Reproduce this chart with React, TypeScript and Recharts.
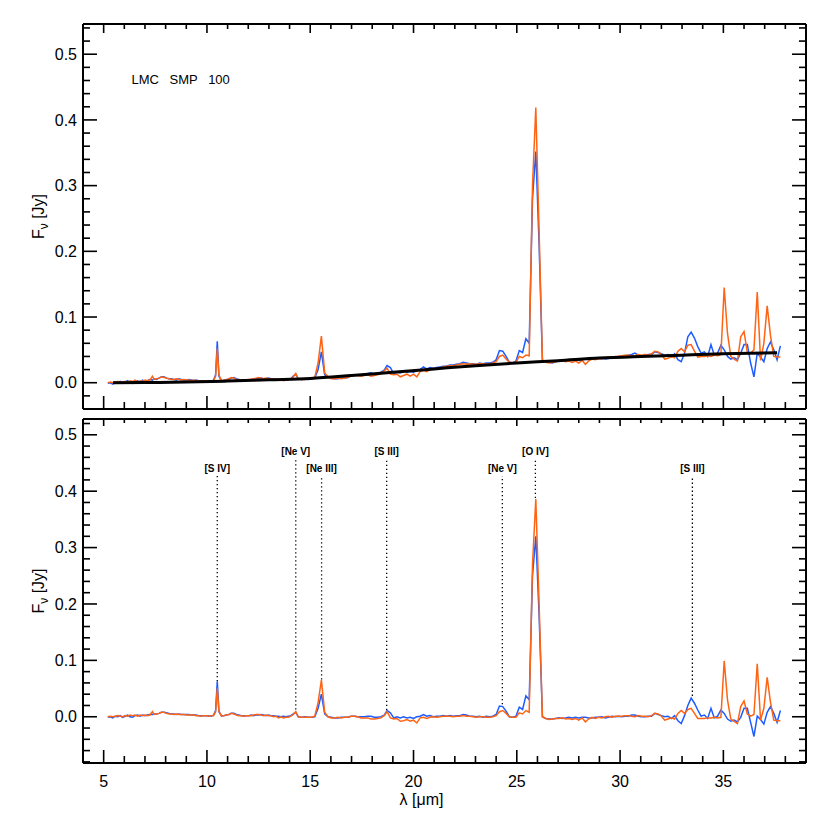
import React from 'react';
import { LineChart, Line, XAxis, YAxis, ReferenceLine, ReferenceDot } from 'recharts';

const FONT = '"Liberation Sans", Arial, Helvetica, sans-serif';
const ORANGE = '#ff6414';
const BLUE = '#1f5cff';

// Wavelength grid (micron)
const wavelengths = [
  5.2, 5.32, 5.44, 5.56, 5.68, 5.8, 5.92, 6.04, 6.16, 6.28,
  6.4, 6.52, 6.64, 6.76, 6.88, 7.0, 7.12, 7.24, 7.36, 7.44,
  7.56, 7.68, 7.8, 7.92, 8.04, 8.16, 8.28, 8.4, 8.52, 8.64,
  8.76, 8.88, 9.0, 9.12, 9.24, 9.36, 9.48, 9.6, 9.72, 9.84,
  9.96, 10.08, 10.2, 10.32, 10.42, 10.5, 10.58, 10.7, 10.82, 10.94,
  11.06, 11.18, 11.3, 11.42, 11.54, 11.66, 11.78, 11.9, 12.02, 12.14,
  12.26, 12.38, 12.5, 12.62, 12.74, 12.86, 12.98, 13.1, 13.22, 13.34,
  13.46, 13.58, 13.7, 13.82, 13.94, 14.06, 14.18, 14.3, 14.42, 14.58,
  14.74, 14.9, 15.06, 15.22, 15.38, 15.54, 15.7, 15.86, 16.02, 16.18,
  16.34, 16.5, 16.66, 16.82, 16.98, 17.14, 17.3, 17.46, 17.62, 17.78,
  17.94, 18.1, 18.26, 18.42, 18.58, 18.72, 18.88, 19.04, 19.2, 19.36,
  19.52, 19.68, 19.84, 20.0, 20.16, 20.32, 20.48, 20.64, 20.8, 20.96,
  21.12, 21.28, 21.44, 21.6, 21.76, 21.92, 22.08, 22.24, 22.4, 22.56,
  22.72, 22.88, 23.04, 23.2, 23.36, 23.52, 23.68, 23.84, 24.0, 24.16,
  24.32, 24.48, 24.64, 24.8, 24.96, 25.12, 25.28, 25.44, 25.6, 25.76,
  25.92, 26.08, 26.24, 26.4, 26.56, 26.72, 26.88, 27.04, 27.2, 27.36,
  27.52, 27.68, 27.84, 28.0, 28.16, 28.32, 28.48, 28.64, 28.8, 28.96,
  29.12, 29.28, 29.44, 29.6, 29.76, 29.92, 30.08, 30.24, 30.4, 30.56,
  30.72, 30.88, 31.04, 31.2, 31.36, 31.52, 31.68, 31.84, 32.0, 32.16,
  32.32, 32.48, 32.64, 32.8, 32.96, 33.12, 33.28, 33.44, 33.6, 33.76,
  33.92, 34.08, 34.24, 34.4, 34.56, 34.72, 34.88, 35.04, 35.2, 35.36,
  35.52, 35.68, 35.84, 36.0, 36.16, 36.32, 36.48, 36.64, 36.8, 36.96,
  37.12, 37.28, 37.44, 37.6, 37.76,
];

// Upper panel: observed spectra (Jy)
const topOrange = [
  0.000, 0.001, 0.000, 0.001, 0.002, 0.001, 0.000, 0.002, 0.001, 0.003,
  0.002, 0.004, 0.001, 0.003, 0.002, 0.004, 0.003, 0.004, 0.010, 0.005,
  0.006, 0.007, 0.009, 0.008, 0.007, 0.006, 0.005, 0.005, 0.006, 0.005,
  0.004, 0.005, 0.004, 0.004, 0.003, 0.004, 0.003, 0.003, 0.002, 0.003,
  0.003, 0.002, 0.003, 0.003, 0.010, 0.052, 0.012, 0.003, 0.004, 0.004,
  0.006, 0.008, 0.007, 0.005, 0.004, 0.004, 0.003, 0.004, 0.005, 0.005,
  0.006, 0.007, 0.008, 0.007, 0.006, 0.007, 0.006, 0.006, 0.005, 0.006,
  0.004, 0.005, 0.003, 0.004, 0.004, 0.006, 0.009, 0.014, 0.006, 0.005,
  0.005, 0.006, 0.006, 0.008, 0.030, 0.071, 0.015, 0.009, 0.006, 0.006,
  0.007, 0.006, 0.007, 0.008, 0.011, 0.012, 0.011, 0.010, 0.011, 0.012,
  0.010, 0.011, 0.012, 0.014, 0.018, 0.022, 0.013, 0.012, 0.013, 0.009,
  0.011, 0.013, 0.010, 0.013, 0.009, 0.017, 0.019, 0.017, 0.020, 0.022,
  0.021, 0.023, 0.024, 0.025, 0.026, 0.026, 0.027, 0.028, 0.029, 0.028,
  0.029, 0.028, 0.028, 0.029, 0.029, 0.028, 0.029, 0.030, 0.032, 0.040,
  0.042, 0.036, 0.031, 0.030, 0.031, 0.040, 0.038, 0.042, 0.041, 0.300,
  0.419, 0.230, 0.035, 0.031, 0.030, 0.031, 0.032, 0.033, 0.034, 0.032,
  0.033, 0.031, 0.033, 0.030, 0.034, 0.028, 0.033, 0.036, 0.035, 0.037,
  0.036, 0.038, 0.039, 0.038, 0.040, 0.040, 0.041, 0.042, 0.042, 0.041,
  0.041, 0.043, 0.042, 0.043, 0.042, 0.044, 0.048, 0.047, 0.043, 0.036,
  0.037, 0.040, 0.038, 0.048, 0.052, 0.047, 0.057, 0.058, 0.048, 0.039,
  0.040, 0.040, 0.041, 0.040, 0.042, 0.041, 0.043, 0.145, 0.075, 0.040,
  0.036, 0.033, 0.070, 0.078, 0.046, 0.045, 0.050, 0.138, 0.034, 0.060,
  0.117, 0.072, 0.040, 0.039, 0.039,
];

const topBlue = [
  -0.001, 0.000, -0.002, 0.001, 0.000, 0.002, -0.001, 0.001, 0.003, 0.000,
  -0.001, 0.002, 0.003, 0.001, 0.004, 0.002, 0.003, 0.005, 0.004, 0.006,
  0.005, 0.007, 0.009, 0.009, 0.007, 0.006, 0.006, 0.005, 0.004, 0.006,
  0.005, 0.004, 0.004, 0.005, 0.004, 0.003, 0.004, 0.003, 0.003, 0.002,
  0.003, 0.003, 0.002, 0.004, 0.012, 0.063, 0.010, 0.003, 0.003, 0.005,
  0.005, 0.007, 0.008, 0.006, 0.005, 0.004, 0.004, 0.004, 0.004, 0.005,
  0.005, 0.006, 0.006, 0.007, 0.006, 0.006, 0.007, 0.006, 0.006, 0.005,
  0.005, 0.004, 0.005, 0.004, 0.005, 0.006, 0.010, 0.013, 0.006, 0.005,
  0.006, 0.005, 0.006, 0.007, 0.020, 0.047, 0.012, 0.009, 0.007, 0.006,
  0.006, 0.007, 0.007, 0.008, 0.011, 0.012, 0.011, 0.012, 0.013, 0.014,
  0.015, 0.013, 0.014, 0.016, 0.019, 0.026, 0.023, 0.014, 0.016, 0.015,
  0.018, 0.016, 0.017, 0.016, 0.018, 0.020, 0.024, 0.021, 0.023, 0.022,
  0.023, 0.024, 0.025, 0.025, 0.027, 0.027, 0.028, 0.029, 0.031, 0.030,
  0.029, 0.029, 0.028, 0.030, 0.029, 0.030, 0.030, 0.031, 0.035, 0.049,
  0.048, 0.040, 0.031, 0.030, 0.033, 0.049, 0.046, 0.067, 0.060, 0.280,
  0.352, 0.210, 0.034, 0.032, 0.031, 0.030, 0.032, 0.034, 0.033, 0.034,
  0.035, 0.034, 0.035, 0.034, 0.035, 0.036, 0.035, 0.036, 0.037, 0.037,
  0.038, 0.036, 0.037, 0.039, 0.039, 0.040, 0.040, 0.041, 0.042, 0.043,
  0.045, 0.042, 0.041, 0.042, 0.043, 0.043, 0.047, 0.046, 0.044, 0.042,
  0.043, 0.039, 0.044, 0.035, 0.032, 0.045, 0.070, 0.077, 0.068, 0.055,
  0.045, 0.047, 0.040, 0.058, 0.042, 0.045, 0.057, 0.050, 0.040, 0.036,
  0.038, 0.035, 0.045, 0.058, 0.058, 0.030, 0.009, 0.045, 0.039, 0.032,
  0.052, 0.062, 0.050, 0.035, 0.056,
];

// Continuum fit (black curve, upper panel)
const continuumWavelengths = [5.45, 7, 9, 11, 13, 15, 17, 19, 21, 23, 25, 27, 29, 31, 33, 35, 37.6];
const continuumFlux = [0.0, 0.0003, 0.001, 0.0025, 0.0045, 0.0065, 0.011, 0.016, 0.021, 0.026, 0.030, 0.0335, 0.0375, 0.040, 0.042, 0.044, 0.0455];

// Lower panel: continuum-subtracted spectra (Jy)
const bottomOrange = [
  0.000, 0.001, 0.000, 0.001, 0.002, 0.001, 0.000, 0.002, 0.001, 0.003,
  0.002, 0.003, 0.001, 0.003, 0.002, 0.003, 0.002, 0.003, 0.009, 0.004,
  0.005, 0.006, 0.008, 0.008, 0.006, 0.005, 0.005, 0.004, 0.005, 0.004,
  0.004, 0.004, 0.003, 0.003, 0.003, 0.003, 0.002, 0.002, 0.001, 0.002,
  0.002, 0.001, 0.002, 0.002, 0.009, 0.050, 0.010, 0.001, 0.002, 0.003,
  0.004, 0.006, 0.005, 0.003, 0.002, 0.002, 0.001, 0.002, 0.002, 0.002,
  0.003, 0.004, 0.004, 0.003, 0.002, 0.003, 0.002, 0.002, 0.000, 0.001,
  -0.002, 0.000, -0.002, -0.001, -0.001, 0.001, 0.004, 0.009, 0.000, -0.001,
  -0.001, -0.001, -0.001, 0.001, 0.025, 0.065, 0.008, 0.000, -0.002, -0.002,
  -0.001, -0.002, -0.001, -0.001, 0.001, 0.001, 0.000, -0.002, -0.002, -0.002,
  -0.004, -0.004, -0.003, -0.002, 0.002, 0.009, -0.002, -0.004, -0.003, -0.008,
  -0.007, -0.005, -0.008, -0.006, -0.011, -0.002, -0.001, -0.003, -0.001, 0.000,
  -0.001, 0.000, 0.001, 0.001, 0.001, 0.000, 0.001, 0.001, 0.002, 0.001,
  0.001, 0.000, -0.001, 0.000, 0.000, -0.001, -0.001, 0.000, 0.002, 0.009,
  0.011, 0.006, 0.000, -0.001, -0.001, 0.007, 0.005, 0.011, 0.008, 0.270,
  0.386, 0.200, 0.000, -0.003, -0.005, -0.004, -0.003, -0.003, -0.002, -0.004,
  -0.003, -0.005, -0.003, -0.006, -0.002, -0.009, -0.004, -0.001, -0.003, -0.001,
  -0.002, 0.000, 0.001, -0.001, 0.001, 0.001, 0.001, 0.002, 0.002, 0.001,
  0.000, 0.002, 0.001, 0.001, 0.000, 0.002, 0.006, 0.005, 0.001, -0.006,
  -0.004, -0.002, -0.004, 0.006, 0.011, 0.006, 0.013, 0.015, 0.006, -0.003,
  -0.003, -0.003, -0.002, -0.002, -0.001, -0.002, -0.001, 0.099, 0.030, -0.004,
  -0.008, -0.012, 0.018, 0.028, 0.005, 0.001, 0.004, 0.094, -0.006, 0.015,
  0.070, 0.026, -0.006, -0.007, -0.007,
];

const bottomBlue = [
  -0.001, 0.000, -0.002, 0.001, 0.000, 0.002, -0.001, 0.001, 0.003, 0.000,
  -0.001, 0.002, 0.003, 0.001, 0.003, 0.002, 0.003, 0.004, 0.004, 0.005,
  0.005, 0.006, 0.008, 0.008, 0.007, 0.006, 0.005, 0.005, 0.004, 0.005,
  0.004, 0.004, 0.004, 0.004, 0.003, 0.003, 0.003, 0.002, 0.002, 0.002,
  0.002, 0.002, 0.001, 0.003, 0.011, 0.063, 0.009, 0.002, 0.002, 0.003,
  0.004, 0.006, 0.006, 0.004, 0.003, 0.002, 0.002, 0.002, 0.002, 0.003,
  0.002, 0.003, 0.003, 0.004, 0.003, 0.002, 0.003, 0.002, 0.002, 0.001,
  0.001, 0.000, 0.001, 0.000, 0.001, 0.002, 0.005, 0.008, 0.000, -0.001,
  0.000, -0.001, -0.001, 0.000, 0.015, 0.040, 0.005, 0.000, -0.001, -0.002,
  -0.002, -0.001, -0.001, -0.001, 0.001, 0.001, 0.000, 0.000, 0.000, 0.001,
  0.001, -0.001, -0.001, 0.000, 0.003, 0.011, 0.007, -0.002, 0.000, -0.002,
  0.000, -0.002, -0.001, -0.003, 0.000, 0.001, 0.004, 0.001, 0.002, 0.000,
  0.001, 0.001, 0.002, 0.001, 0.002, 0.001, 0.002, 0.002, 0.004, 0.003,
  0.001, 0.001, 0.000, 0.001, -0.001, 0.001, 0.000, 0.001, 0.004, 0.019,
  0.018, 0.010, 0.000, -0.001, 0.001, 0.017, 0.013, 0.037, 0.030, 0.250,
  0.320, 0.180, 0.000, -0.003, -0.004, -0.004, -0.003, -0.002, -0.003, -0.002,
  -0.001, -0.002, -0.001, -0.002, -0.001, -0.001, -0.002, -0.002, -0.001, -0.001,
  0.000, -0.002, -0.001, 0.001, 0.000, 0.001, 0.000, 0.001, 0.001, 0.003,
  0.003, 0.001, 0.000, 0.000, 0.001, 0.001, 0.006, 0.004, 0.002, 0.000,
  0.001, -0.003, 0.002, -0.007, -0.012, 0.002, 0.020, 0.033, 0.024, 0.012,
  0.001, 0.003, -0.003, 0.015, -0.002, 0.001, 0.012, 0.006, -0.004, -0.008,
  -0.006, -0.009, -0.001, 0.015, 0.015, -0.010, -0.035, 0.001, -0.005, -0.013,
  0.008, 0.018, 0.006, -0.010, 0.011,
];

// Emission line identifications (lower panel)
const lineLabels = ['[S IV]', '[Ne V]', '[Ne III]', '[S III]', '[Ne V]', '[O IV]', '[S III]'];
const lineWavelengths = [10.5, 14.3, 15.55, 18.7, 24.3, 25.9, 33.5];
const lineBase = [0.063, 0.013, 0.066, 0.012, 0.022, 0.388, 0.037];
const lineTop = [0.427, 0.457, 0.427, 0.457, 0.427, 0.457, 0.427];

// Ticks
const xTicks = [5, 6, 7, 8, 9, 10, 11, 12, 13, 14, 15, 16, 17, 18, 19, 20, 21, 22, 23, 24, 25, 26, 27, 28, 29, 30, 31, 32, 33, 34, 35, 36, 37, 38];
const xMajor = [5, 10, 15, 20, 25, 30, 35];
const yTicksTop = [-0.04, -0.02, 0, 0.02, 0.04, 0.06, 0.08, 0.1, 0.12, 0.14, 0.16, 0.18, 0.2, 0.22, 0.24, 0.26, 0.28, 0.3, 0.32, 0.34, 0.36, 0.38, 0.4, 0.42, 0.44, 0.46, 0.48, 0.5, 0.52, 0.54];
const yTicksBottom = [-0.08, -0.06, -0.04, -0.02, 0, 0.02, 0.04, 0.06, 0.08, 0.1, 0.12, 0.14, 0.16, 0.18, 0.2, 0.22, 0.24, 0.26, 0.28, 0.3, 0.32, 0.34, 0.36, 0.38, 0.4, 0.42, 0.44, 0.46, 0.48, 0.5, 0.52];
const yMajor = [0, 0.1, 0.2, 0.3, 0.4, 0.5];

const spectrum = wavelengths.map((w, i) => ({
  w,
  to: topOrange[i],
  tb: topBlue[i],
  bo: bottomOrange[i],
  bb: bottomBlue[i],
}));
const continuum = continuumWavelengths.map((w, i) => ({ w, c: continuumFlux[i] }));

const near = (a: number, b: number) => Math.abs(a - b) < 1e-6;
const isMajorY = (v: number) => yMajor.some((m) => near(m, v));
const isMajorX = (v: number) => xMajor.some((m) => near(m, v));

const makeYTick = (side: 'left' | 'right') => (props: any) => {
  const { x, y, payload } = props;
  const major = isMajorY(payload.value);
  const len = major ? 14 : 7;
  const dir = side === 'left' ? 1 : -1;
  return (
    <g>
      <line x1={x} y1={y} x2={x + dir * len} y2={y} stroke="#000" strokeWidth={1.6} />
      {side === 'left' && major && (
        <text x={x - 6} y={y} dy={5.7} textAnchor="end" fontSize={16} fontFamily={FONT} fill="#000">
          {Number(payload.value).toFixed(1)}
        </text>
      )}
    </g>
  );
};

const makeXTick = (side: 'top' | 'bottom', majorLen: number, minorLen: number, showLabels: boolean) => (props: any) => {
  const { x, y, payload } = props;
  const major = isMajorX(payload.value);
  const len = major ? majorLen : minorLen;
  const dir = side === 'bottom' ? -1 : 1;
  return (
    <g>
      <line x1={x} y1={y} x2={x} y2={y + dir * len} stroke="#000" strokeWidth={1.6} />
      {showLabels && major && (
        <text x={x} y={y + 23.5} textAnchor="middle" fontSize={16} fontFamily={FONT} fill="#000">
          {payload.value}
        </text>
      )}
    </g>
  );
};

const yTitle = (props: any) => {
  const vb = props.viewBox || { x: 0, y: 0, width: 83, height: 0 };
  const cx = vb.x + 44;
  const cy = vb.y + vb.height / 2;
  return (
    <text x={cx} y={cy} textAnchor="middle" fontSize={16} fontFamily={FONT} fill="#000" transform={`rotate(-90 ${cx} ${cy})`}>
      <tspan>F</tspan>
      <tspan fontSize={12} dy={4}>ν</tspan>
      <tspan dy={-4}>{'  [Jy]'}</tspan>
    </text>
  );
};

const xTitle = (props: any) => {
  const vb = props.viewBox || { x: 83, y: 349, width: 723, height: 1 };
  return (
    <text x={vb.x + vb.width / 2 - 23} y={vb.y + 42} textAnchor="middle" fontSize={16} fontFamily={FONT} fill="#000">
      λ [μm]
    </text>
  );
};

const nameLabel = (props: any) => {
  const vb = props.viewBox || { x: 0, y: 0 };
  return (
    <text x={vb.x} y={vb.y + 4.5} fontSize={13} fontFamily={FONT} fill="#000" style={{ wordSpacing: '7px' }}>
      LMC SMP 100
    </text>
  );
};

const axisLine = { stroke: '#000', strokeWidth: 2 };

export default function App() {
  return (
    <div style={{ position: 'absolute', left: 0, top: 0, width: 830, height: 830, background: '#fff' }}>
      <LineChart width={830} height={414} data={spectrum} margin={{ top: 23, right: 23, bottom: 4, left: 0 }}>
        <XAxis xAxisId="b" dataKey="w" type="number" domain={[4, 39]} allowDataOverflow orientation="bottom" height={1}
          ticks={xTicks} interval={0} tickLine={false} tickSize={0} tickMargin={0} tick={makeXTick('bottom', 13, 7, false)} axisLine={axisLine} />
        <XAxis xAxisId="t" dataKey="w" type="number" domain={[4, 39]} allowDataOverflow orientation="top" height={1}
          ticks={xTicks} interval={0} tickLine={false} tickSize={0} tickMargin={0} tick={makeXTick('top', 9, 5, false)} axisLine={axisLine} />
        <YAxis yAxisId="l" type="number" domain={[-0.04, 0.546]} allowDataOverflow orientation="left" width={83}
          ticks={yTicksTop} interval={0} tickLine={false} tickSize={0} tickMargin={0} tick={makeYTick('left')} axisLine={axisLine} label={yTitle} />
        <YAxis yAxisId="r" type="number" domain={[-0.04, 0.546]} allowDataOverflow orientation="right" width={1}
          ticks={yTicksTop} interval={0} tickLine={false} tickSize={0} tickMargin={0} tick={makeYTick('right')} axisLine={axisLine} />
        <Line xAxisId="b" yAxisId="l" dataKey="tb" type="linear" stroke={BLUE} strokeWidth={1.5} dot={false} isAnimationActive={false} />
        <Line xAxisId="b" yAxisId="l" dataKey="to" type="linear" stroke={ORANGE} strokeWidth={1.5} dot={false} isAnimationActive={false} />
        <Line xAxisId="b" yAxisId="l" data={continuum} dataKey="c" type="monotone" stroke="#000" strokeWidth={3} dot={false} isAnimationActive={false} />
        <ReferenceDot xAxisId="b" yAxisId="l" x={6.35} y={0.462} r={0} fill="none" stroke="none" label={nameLabel} />
      </LineChart>
      <LineChart width={830} height={416} data={spectrum} margin={{ top: 4, right: 23, bottom: 66, left: 0 }}>
        <XAxis xAxisId="b" dataKey="w" type="number" domain={[4, 39]} allowDataOverflow orientation="bottom" height={1}
          ticks={xTicks} interval={0} tickLine={false} tickSize={0} tickMargin={0} tick={makeXTick('bottom', 13, 7, true)} axisLine={axisLine} label={xTitle} />
        <XAxis xAxisId="t" dataKey="w" type="number" domain={[4, 39]} allowDataOverflow orientation="top" height={1}
          ticks={xTicks} interval={0} tickLine={false} tickSize={0} tickMargin={0} tick={makeXTick('top', 7, 4, false)} axisLine={axisLine} />
        <YAxis yAxisId="l" type="number" domain={[-0.082, 0.528]} allowDataOverflow orientation="left" width={83}
          ticks={yTicksBottom} interval={0} tickLine={false} tickSize={0} tickMargin={0} tick={makeYTick('left')} axisLine={axisLine} label={yTitle} />
        <YAxis yAxisId="r" type="number" domain={[-0.082, 0.528]} allowDataOverflow orientation="right" width={1}
          ticks={yTicksBottom} interval={0} tickLine={false} tickSize={0} tickMargin={0} tick={makeYTick('right')} axisLine={axisLine} />
        {lineWavelengths.map((lw, i) => (
          <ReferenceLine
            key={`ln-${i}`}
            xAxisId="b"
            yAxisId="l"
            segment={[{ x: lw, y: lineBase[i] }, { x: lw, y: lineTop[i] }]}
            stroke="#000"
            strokeWidth={1.3}
            strokeDasharray="1.3 2.7"
            label={{ value: lineLabels[i], position: 'top', offset: 4, fontSize: 10, fontWeight: 'bold', fontFamily: FONT, fill: '#000' }}
          />
        ))}
        <Line xAxisId="b" yAxisId="l" dataKey="bb" type="linear" stroke={BLUE} strokeWidth={1.5} dot={false} isAnimationActive={false} />
        <Line xAxisId="b" yAxisId="l" dataKey="bo" type="linear" stroke={ORANGE} strokeWidth={1.5} dot={false} isAnimationActive={false} />
      </LineChart>
    </div>
  );
}
